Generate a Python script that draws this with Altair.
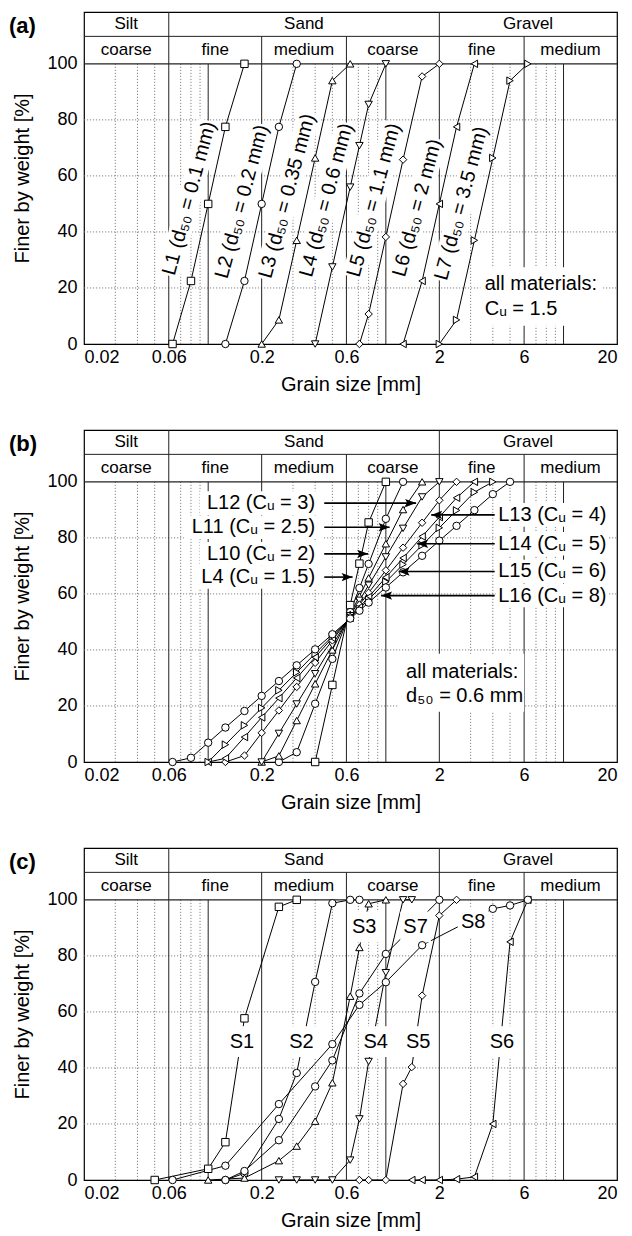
import altair as alt
import pandas as pd

FONT = "Liberation Sans, Arial, Helvetica, DejaVu Sans, sans-serif"

# ---------------- axes / grid ----------------
X_DOMAIN = [0.02, 20]
X_TICKS = [0.02, 0.06, 0.2, 0.6, 2, 6, 20]
Y_TICKS = [0, 20, 40, 60, 80, 100]
Y_TOP = 118.5
Y_DIV = 109.8
GRID_DOTTED_X = [0.03, 0.04, 0.05, 0.07, 0.08, 0.09, 0.3, 0.4, 0.5, 0.7, 0.8, 0.9, 3, 4, 5, 7, 8, 9]
GRID_SOLID_X = [0.06, 0.1, 0.2, 0.6, 1, 2, 6, 10]
GRID_Y = [20, 40, 60, 80]
HEAD_TALL_X = [0.06, 2]
HEAD_SHORT_X = [0.2, 0.6, 6]
HEAD1_TEXT = ["Silt", "Sand", "Gravel"]
HEAD1_X = [0.0346, 0.346, 6.32]
HEAD2_TEXT = ["coarse", "fine", "medium", "coarse", "fine", "medium"]
HEAD2_X = [0.0346, 0.1095, 0.346, 1.095, 3.46, 10.95]

# ---------------- panel (a) ----------------
A_NAMES = ["L1", "L2", "L3", "L4", "L5", "L6", "L7"]
A_SHAPES = ["square", "circle", "triangle-up", "triangle-down", "diamond", "triangle-left", "triangle-right"]
L1_d = [0.063, 0.08, 0.1, 0.125, 0.16]
L1_p = [0, 22.5, 50, 77.5, 100]
L2_d = [0.125, 0.16, 0.2, 0.25, 0.315]
L2_p = [0, 22.5, 50, 77.5, 100]
L3_d = [0.2, 0.25, 0.315, 0.4, 0.5, 0.63]
L3_p = [0, 8.6, 37, 66.4, 94, 100]
L4_d = [0.4, 0.5, 0.63, 0.71, 0.8, 1.0]
L4_p = [0, 27.5, 56, 70.8, 85.5, 100]
L5_d = [0.71, 0.8, 1.0, 1.25, 1.6, 2.0]
L5_p = [0, 10.7, 38.2, 65.8, 95.5, 100]
L6_d = [1.25, 1.6, 2.0, 2.5, 3.15]
L6_p = [0, 22.5, 50, 77.5, 100]
L7_d = [2.0, 2.5, 3.15, 4.0, 5.0, 6.3]
L7_p = [0, 8.6, 37, 66.4, 94, 100]
A_LAB_TEXT = ["L1 (d₅₀ = 0.1 mm)", "L2 (d₅₀ = 0.2 mm)", "L3 (d₅₀ = 0.35 mm)", "L4 (d₅₀ = 0.6 mm)",
              "L5 (d₅₀ = 1.1 mm)", "L6 (d₅₀ = 2 mm)", "L7 (d₅₀ = 3.5 mm)"]
A_LAB_D = [0.0782, 0.155, 0.278, 0.463, 0.857, 1.50, 2.66]
A_LAB_P = [52, 50.8, 52.8, 51.4, 51.4, 48.6, 50.2]
# half extent of the white band behind each rotated label: (log-x factor, y span in %)
A_BAND_F = [1.307, 1.307, 1.334, 1.307, 1.307, 1.273, 1.307]
A_BAND_DP = [27.6, 27.6, 29.7, 27.6, 27.6, 24.8, 27.6]
A_NOTE = ["all materials:", "Cᵤ = 1.5"]
A_NOTE_D = 3.6
A_NOTE_P = [21.4, 12.5]
A_BOX = [3.4, 16.4, 6.5, 27.4]

# ---------------- panel (b) ----------------
B_NAMES = ["L4", "L10", "L11", "L12", "L13", "L14", "L15", "L16"]
B_SHAPES = ["square", "circle", "triangle-up", "triangle-down", "diamond", "triangle-left", "triangle-right", "circle"]
B4_d = [0.4, 0.5, 0.63, 0.71, 0.8, 1.0]
B4_p = [0, 27.5, 56, 70.8, 85.5, 100]
B10_d = [0.25, 0.315, 0.4, 0.5, 0.63, 0.71, 0.8, 1.0, 1.25]
B10_p = [0, 3.5, 20.8, 36.8, 53.5, 62.1, 70.7, 86.8, 100]
B11_d = [0.2, 0.25, 0.315, 0.4, 0.5, 0.63, 0.71, 0.8, 1.0, 1.25, 1.6]
B11_p = [0, 2.2, 14.8, 27.9, 40.0, 52.7, 59.2, 65.7, 77.9, 90.1, 100]
B12_d = [0.2, 0.25, 0.315, 0.4, 0.5, 0.63, 0.71, 0.8, 1.0, 1.25, 1.6, 2.0]
B12_p = [0, 10.2, 20.7, 31.5, 41.7, 52.2, 57.7, 63.1, 73.2, 83.4, 94.6, 100]
B13_d = [0.125, 0.16, 0.2, 0.25, 0.315, 0.4, 0.5, 0.63, 0.71, 0.8, 1.0, 1.25, 1.6, 2.0, 2.5]
B13_p = [0, 2.3, 10.4, 18.4, 26.8, 35.4, 43.4, 51.8, 56.1, 60.4, 68.4, 76.5, 85.4, 93.4, 100]
B14_d = [0.1, 0.125, 0.16, 0.2, 0.25, 0.315, 0.4, 0.5, 0.63, 0.71, 0.8, 1.0, 1.25, 1.6, 2.0, 2.5, 3.15]
B14_p = [0, 1.3, 8.9, 15.9, 22.8, 30.0, 37.4, 44.3, 51.5, 55.2, 58.9, 65.9, 72.8, 80.5, 87.4, 94.3, 100]
B15_d = [0.1, 0.125, 0.16, 0.2, 0.25, 0.315, 0.4, 0.5, 0.63, 0.71, 0.8, 1.0, 1.25, 1.6, 2.0, 2.5, 3.15, 4.0]
B15_p = [0, 6.2, 13.1, 19.3, 25.6, 32.0, 38.7, 44.9, 51.4, 54.7, 58.0, 64.3, 70.5, 77.4, 83.6, 89.8, 96.3, 100]
B16_d = [0.063, 0.08, 0.1, 0.125, 0.16, 0.2, 0.25, 0.315, 0.4, 0.5, 0.63, 0.71, 0.8, 1.0, 1.25, 1.6, 2.0,
         2.5, 3.15, 4.0, 5.0]
B16_p = [0, 1.5, 6.9, 12.3, 18.2, 23.6, 28.9, 34.5, 40.2, 45.6, 51.2, 54.0, 56.9, 62.3, 67.7, 73.6, 79.0,
         84.3, 89.9, 95.6, 100]
B_LEFT_TEXT = ["L12 (Cᵤ = 3)", "L11 (Cᵤ = 2.5)", "L10 (Cᵤ = 2)", "L4 (Cᵤ = 1.5)"]
B_LEFT_P = [92.4, 83.8, 74.3, 66.0]
B_LEFT_TIP = [1.48, 1.05, 0.795, 0.65]
B_LEFT_BOXL = [0.09, 0.073, 0.09, 0.085]
B_LEFT_END = 0.40
B_LEFT_START = 0.45
B_RIGHT_TEXT = ["L13 (Cᵤ = 4)", "L14 (Cᵤ = 5)", "L15 (Cᵤ = 6)", "L16 (Cᵤ = 8)"]
B_RIGHT_P = [88.2, 77.9, 68.0, 59.4]
B_RIGHT_TIP = [1.8, 1.5, 1.18, 0.94]
B_RIGHT_BEGIN = 4.29
B_RIGHT_START = 4.1
B_NOTE = ["all materials:", "d₅₀ = 0.6 mm"]
B_NOTE_D = 1.3
B_NOTE_P = [32.0, 23.7]
B_BOX = [1.17, 6.0, 17.9, 38.6]

# ---------------- panel (c) ----------------
C_NAMES = ["S1", "S2", "S3", "S4", "S5", "S6", "S7", "S8"]
C_SHAPES = ["square", "circle", "triangle-up", "triangle-down", "diamond", "triangle-left", "circle", "circle"]
S1_d = [0.05, 0.1, 0.125, 0.16, 0.25, 0.315]
S1_p = [0, 4, 13.5, 57.7, 97.5, 100]
S2_d = [0.125, 0.16, 0.25, 0.315, 0.4, 0.5, 0.63, 0.71]
S2_p = [0, 2.4, 21.8, 38.2, 70.7, 98.8, 100, 100]
S3_d = [0.1, 0.16, 0.25, 0.315, 0.4, 0.5, 0.63, 0.71, 0.8, 1.0]
S3_p = [0, 0.7, 6.9, 12.1, 21, 34.7, 65.6, 83, 98.6, 100]
S4_d = [0.25, 0.315, 0.4, 0.5, 0.63, 0.71, 0.8, 1.0, 1.25, 1.4]
S4_p = [0, 0, 0, 0, 7.1, 21.8, 42.3, 74, 100, 100]
S5_d = [0.71, 0.8, 1.0, 1.25, 1.4, 1.6, 2.0, 2.5]
S5_p = [0, 0, 0, 34.3, 40.3, 65.8, 94.4, 100]
S6_d = [1.4, 1.6, 2.0, 2.5, 3.15, 4.0, 5.0, 6.3]
S6_p = [0, 0, 0, 0.3, 1.1, 20, 85, 100]
S7_d = [0.125, 0.16, 0.25, 0.4, 0.5, 0.71, 1.0, 2.0]
S7_p = [0, 3.2, 14.2, 33.4, 42.7, 66.6, 80.7, 100]
S8_d = [0.063, 0.125, 0.25, 0.5, 0.71, 1.0, 1.6, 4.0, 5.0, 6.3]
S8_p = [0, 5.1, 27.1, 48.5, 62.5, 70.6, 83.8, 96.8, 98, 100]
C_LAB_TEXT = ["S1", "S2", "S3", "S4", "S5", "S6", "S7", "S8"]
C_LAB_D = [0.155, 0.335, 0.756, 0.876, 1.52, 4.5, 1.47, 3.1]
C_LAB_P = [49.4, 49.4, 90.3, 49.4, 49.4, 49.4, 90.3, 92.0]

xs = alt.Scale(type="log", domain=X_DOMAIN)
ys = alt.Scale(domain=[0, Y_TOP], nice=False, zero=False)
X_AXIS = alt.Axis(values=X_TICKS, format="~g", title="Grain size [mm]", grid=False,
                  ticks=False, domain=False, labelPadding=4, titlePadding=8)
Y_AXIS = alt.Axis(values=Y_TICKS, title="Finer by weight [%]", grid=False,
                  ticks=False, domain=False, labelPadding=7, titlePadding=14)


def X(field):
    return alt.X(field, type="quantitative", scale=xs, axis=X_AXIS)


def Y(field):
    return alt.Y(field, type="quantitative", scale=ys, axis=Y_AXIS)


def series_df(names, ds, ps):
    rows = []
    for n, d, p in zip(names, ds, ps):
        for a, b in zip(d, p):
            rows.append({"s": n, "d": a, "p": b})
    return pd.DataFrame(rows)


def vrules(xv, y0, y1):
    return pd.DataFrame({"x": xv, "y0": [y0] * len(xv), "y1": [y1] * len(xv)})


def base_layers():
    dotted = alt.Chart(vrules(GRID_DOTTED_X, 0, 100)).mark_rule(
        color="#777", strokeWidth=0.9, strokeDash=[1.2, 1.8]).encode(
        x=X("x"), y=Y("y0"), y2="y1")
    hgrid = alt.Chart(pd.DataFrame({"y": GRID_Y, "x0": [X_DOMAIN[0]] * 4, "x1": [X_DOMAIN[1]] * 4})).mark_rule(
        color="#777", strokeWidth=0.9, strokeDash=[1.2, 1.8]).encode(x=X("x0"), x2="x1", y=Y("y"))
    solid = alt.Chart(vrules(GRID_SOLID_X, 0, 100)).mark_rule(color="#222", strokeWidth=1).encode(
        x=X("x"), y=Y("y0"), y2="y1")
    tall = alt.Chart(vrules(HEAD_TALL_X, 100, Y_TOP)).mark_rule(color="#222", strokeWidth=1).encode(
        x=X("x"), y=Y("y0"), y2="y1")
    short = alt.Chart(vrules(HEAD_SHORT_X, 100, Y_DIV)).mark_rule(color="#222", strokeWidth=1).encode(
        x=X("x"), y=Y("y0"), y2="y1")
    hlines = alt.Chart(pd.DataFrame({"y": [100, Y_DIV], "x0": X_DOMAIN[:1] * 2, "x1": X_DOMAIN[1:] * 2,
                                     "w": [1.3, 1.0]})).mark_rule(color="#222").encode(
        x=X("x0"), x2="x1", y=Y("y"), strokeWidth=alt.StrokeWidth("w:Q", scale=None, legend=None))
    h1 = alt.Chart(pd.DataFrame({"x": HEAD1_X, "t": HEAD1_TEXT, "y": [(Y_DIV + Y_TOP) / 2] * 3})).mark_text(
        font=FONT, fontSize=17, baseline="middle", color="black").encode(x=X("x"), y=Y("y"), text="t:N")
    h2 = alt.Chart(pd.DataFrame({"x": HEAD2_X, "t": HEAD2_TEXT, "y": [(100 + Y_DIV) / 2] * 6})).mark_text(
        font=FONT, fontSize=17, baseline="middle", color="black").encode(x=X("x"), y=Y("y"), text="t:N")
    return [dotted, hgrid, solid, tall, short, hlines, h1, h2]


def box_layer(x0, x1, y0, y1):
    return alt.Chart(pd.DataFrame({"x0": x0, "x1": x1, "y0": y0, "y1": y1})).mark_rect(
        color="white", opacity=1).encode(x=X("x0"), x2="x1", y=Y("y0"), y2="y1")


def data_layers(df, names, shapes):
    line = alt.Chart(df).mark_line(color="black", strokeWidth=1).encode(
        x=X("d"), y=Y("p"), detail="s:N", order="d:Q")
    pts = alt.Chart(df).mark_point(filled=True, fill="white", stroke="black", strokeWidth=1,
                                   size=55, opacity=1).encode(
        x=X("d"), y=Y("p"),
        shape=alt.Shape("s:N", scale=alt.Scale(domain=names, range=shapes), legend=None))
    return line, pts


def text_layer(xv, yv, tv, align="left", size=20, angle=None):
    kw = dict(font=FONT, fontSize=size, align=align, baseline="middle", color="black")
    if angle is not None:
        kw["angle"] = angle
    return alt.Chart(pd.DataFrame({"x": xv, "y": yv, "t": tv})).mark_text(**kw).encode(
        x=X("x"), y=Y("y"), text="t:N")


def title(t):
    return alt.TitleParams(t, anchor="start", frame="bounds", font=FONT, fontSize=22, fontWeight="bold",
                           baseline="top", offset=0, dx=-4, dy=26, color="black")


W, H = 533, 332

# ---- panel (a)
dfa = series_df(A_NAMES, [L1_d, L2_d, L3_d, L4_d, L5_d, L6_d, L7_d], [L1_p, L2_p, L3_p, L4_p, L5_p, L6_p, L7_p])
la, pa = data_layers(dfa, A_NAMES, A_SHAPES)
bands = pd.DataFrame({
    "x0": [d / f for d, f in zip(A_LAB_D, A_BAND_F)],
    "x1": [d * f for d, f in zip(A_LAB_D, A_BAND_F)],
    "y0": [p - h for p, h in zip(A_LAB_P, A_BAND_DP)],
    "y1": [p + h for p, h in zip(A_LAB_P, A_BAND_DP)],
})
band_layer = alt.Chart(bands).mark_rule(color="white", strokeWidth=23, strokeCap="butt").encode(
    x=X("x0"), x2="x1", y=Y("y0"), y2="y1")
panel_a = alt.layer(
    *base_layers(),
    band_layer,
    box_layer([A_BOX[0]], [A_BOX[1]], [A_BOX[2]], [A_BOX[3]]),
    la, pa,
    text_layer(A_LAB_D, A_LAB_P, A_LAB_TEXT, align="center", angle=285),
    text_layer([A_NOTE_D] * 2, A_NOTE_P, A_NOTE),
).properties(width=W, height=H, title=title("(a)"))

# ---- panel (b)
dfb = series_df(B_NAMES, [B4_d, B10_d, B11_d, B12_d, B13_d, B14_d, B15_d, B16_d],
                [B4_p, B10_p, B11_p, B12_p, B13_p, B14_p, B15_p, B16_p])
lb, pb = data_layers(dfb, B_NAMES, B_SHAPES)
arrows_l = pd.DataFrame({"x0": [B_LEFT_START] * 4, "x1": B_LEFT_TIP, "y": B_LEFT_P})
arrows_r = pd.DataFrame({"x0": [B_RIGHT_START] * 4, "x1": B_RIGHT_TIP, "y": B_RIGHT_P})
HEAD_R = "M0,0 L-1,-0.38 L-0.8,0 L-1,0.38 Z"
HEAD_L = "M0,0 L1,-0.38 L0.8,0 L1,0.38 Z"
arrow_layers = []
for adf, hs in [(arrows_l, HEAD_R), (arrows_r, HEAD_L)]:
    arrow_layers.append(alt.Chart(adf).mark_rule(color="black", strokeWidth=1.6).encode(
        x=X("x0"), x2="x1", y=Y("y")))
    arrow_layers.append(alt.Chart(adf).mark_point(shape=hs, filled=True, color="black", size=480,
                                                  opacity=1).encode(x=X("x1"), y=Y("y")))
panel_b = alt.layer(
    *base_layers(),
    box_layer(B_LEFT_BOXL, [0.44] * 4, [p - 4.2 for p in B_LEFT_P], [p + 4.2 for p in B_LEFT_P]),
    box_layer([4.15] * 4, [17.8] * 4, [p - 4.2 for p in B_RIGHT_P], [p + 4.2 for p in B_RIGHT_P]),
    box_layer([B_BOX[0]], [B_BOX[1]], [B_BOX[2]], [B_BOX[3]]),
    lb, pb,
    *arrow_layers,
    text_layer([B_LEFT_END] * 4, B_LEFT_P, B_LEFT_TEXT, align="right"),
    text_layer([B_RIGHT_BEGIN] * 4, B_RIGHT_P, B_RIGHT_TEXT, align="left"),
    text_layer([B_NOTE_D] * 2, B_NOTE_P, B_NOTE),
).properties(width=W, height=H, title=title("(b)"))

# ---- panel (c)
dfc = series_df(C_NAMES, [S1_d, S2_d, S3_d, S4_d, S5_d, S6_d, S7_d, S8_d],
                [S1_p, S2_p, S3_p, S4_p, S5_p, S6_p, S7_p, S8_p])
lc, pc = data_layers(dfc, C_NAMES, C_SHAPES)
panel_c = alt.layer(
    *base_layers(),
    lc,
    box_layer([d / 1.22 for d in C_LAB_D], [d * 1.22 for d in C_LAB_D],
              [p - 5.5 for p in C_LAB_P], [p + 5.5 for p in C_LAB_P]),
    pc,
    text_layer(C_LAB_D, C_LAB_P, C_LAB_TEXT, align="center"),
).properties(width=W, height=H, title=title("(c)"))

chart = alt.vconcat(panel_a, panel_b, panel_c, spacing=33).resolve_scale(
    shape="independent"
).configure(
    padding={"left": 0, "top": 2, "right": 5, "bottom": 0}
).configure_view(stroke="black", strokeWidth=1.2).configure_axis(
    labelFont=FONT, titleFont=FONT, labelFontSize=18, titleFontSize=20, titleFontWeight="normal",
    labelColor="black", titleColor="black")

chart.save("out.html", embed_options={"renderer": "svg", "actions": False})
